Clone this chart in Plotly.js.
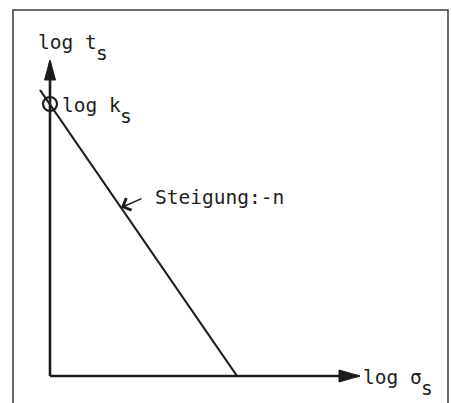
<!DOCTYPE html>
<html>
<head>
<meta charset="utf-8">
<script src="https://cdn.plot.ly/plotly-3.0.1.min.js"></script>
<style>
  html, body { margin: 0; padding: 0; background: #fff; }
  #chart { width: 452px; height: 403px; }
</style>
</head>
<body>
<div id="chart"></div>
<script>
// Schematic: log t_s against log sigma_s, straight line with slope -n

// axis arrows (origin at 0,0)
var xAxisX = [0, 3.08];
var xAxisY = [0, 0];
var yAxisX = [0, 0];
var yAxisY = [0, 3.14];

// the line log t_s = log k_s - n * log sigma_s
var lineX = [-0.10, 1.87];
var lineY = [2.86, 0];

// intercept point log k_s
var kX = [0];
var kY = [2.72];

// where the slope label points on the line
var slopeAtX = 0.71;
var slopeTail = [0.93, 1.78];

// labels and where they sit (left edge, middle)
var labelMain = ['log t', 'log k', 'Steigung:-n', 'log σ'];
var labelSub = ['s', 's', '', 's'];
var labelX = [-0.145, 0.095, 1.03, 3.105];
var labelY = [3.34, 2.71, 1.79, -0.01];

var ink = '#1c1c1c';
var fontSize = 19.5;
var charWidth = fontSize * 0.602;   // DejaVu Sans Mono advance
var subDrop = 11;
var textFont = {family: 'DejaVu Sans Mono, monospace', size: fontSize, color: '#1e1e1e'};

// linear interpolation on the line data
function line_y_at(x){
	var t = (x - lineX[0]) / (lineX[1] - lineX[0]);
	return lineY[0] + t * (lineY[1] - lineY[0]);
}

var data = [
	{x: xAxisX, y: xAxisY, mode: 'lines', line: {color: ink, width: 2.6}, hoverinfo: 'skip'},
	{x: yAxisX, y: yAxisY, mode: 'lines', line: {color: ink, width: 2.6}, hoverinfo: 'skip'},
	{x: lineX, y: lineY, mode: 'lines', line: {color: ink, width: 2.2}, hoverinfo: 'skip'},
	{x: kX, y: kY, mode: 'markers', hoverinfo: 'skip',
	 marker: {symbol: 'circle-open', size: 14, color: ink, line: {color: ink, width: 2.2}}}
];

var annotations = [];
for (var i = 0; i < labelMain.length; i++){
	annotations.push({
		x: labelX[i], y: labelY[i], xref: 'x', yref: 'y',
		text: labelMain[i], showarrow: false,
		xanchor: 'left', yanchor: 'middle', font: textFont
	});
	// full size subscript, dropped below the line as on the typewriter
	if (labelSub[i]){
		annotations.push({
			x: labelX[i], y: labelY[i], xref: 'x', yref: 'y',
			xshift: labelMain[i].length * charWidth, yshift: -subDrop,
			text: labelSub[i], showarrow: false,
			xanchor: 'left', yanchor: 'middle', font: textFont
		});
	}
}

// leader arrow from the slope label to the line
annotations.push({
	x: slopeAtX, y: line_y_at(slopeAtX), xref: 'x', yref: 'y',
	ax: slopeTail[0], ay: slopeTail[1], axref: 'x', ayref: 'y',
	text: '', showarrow: true, arrowhead: 4, arrowsize: 1.7,
	arrowwidth: 1.5, arrowcolor: ink, standoff: 0
});

var shapes = [
	// frame round the figure
	{type: 'rect', xref: 'paper', yref: 'paper',
	 x0: 13 / 452, x1: 448 / 452, y0: -0.05, y1: 1 - 10 / 403,
	 line: {color: '#3a3a3a', width: 1.5}, fillcolor: 'rgba(0,0,0,0)'},
	// arrow heads, sized in pixels, anchored at the axis tips
	{type: 'path', xref: 'x', yref: 'y', xsizemode: 'pixel', ysizemode: 'pixel',
	 xanchor: xAxisX[1], yanchor: xAxisY[1],
	 path: 'M2,0 L-19,6 L-19,-6 Z', fillcolor: ink, line: {color: ink, width: 1}},
	{type: 'path', xref: 'x', yref: 'y', xsizemode: 'pixel', ysizemode: 'pixel',
	 xanchor: yAxisX[1], yanchor: yAxisY[1],
	 path: 'M0,2 L-5.5,-18 L5.5,-18 Z', fillcolor: ink, line: {color: ink, width: 1}}
];

var layout = {
	width: 452,
	height: 403,
	margin: {l: 0, r: 0, t: 0, b: 0},
	paper_bgcolor: '#fff',
	plot_bgcolor: '#fff',
	showlegend: false,
	xaxis: {range: [-0.5, 4.02], visible: false, fixedrange: true},
	yaxis: {range: [-0.27, 3.76], visible: false, fixedrange: true},
	annotations: annotations,
	shapes: shapes
};

Plotly.newPlot('chart', data, layout, {displayModeBar: false, staticPlot: true});
</script>
</body>
</html>
